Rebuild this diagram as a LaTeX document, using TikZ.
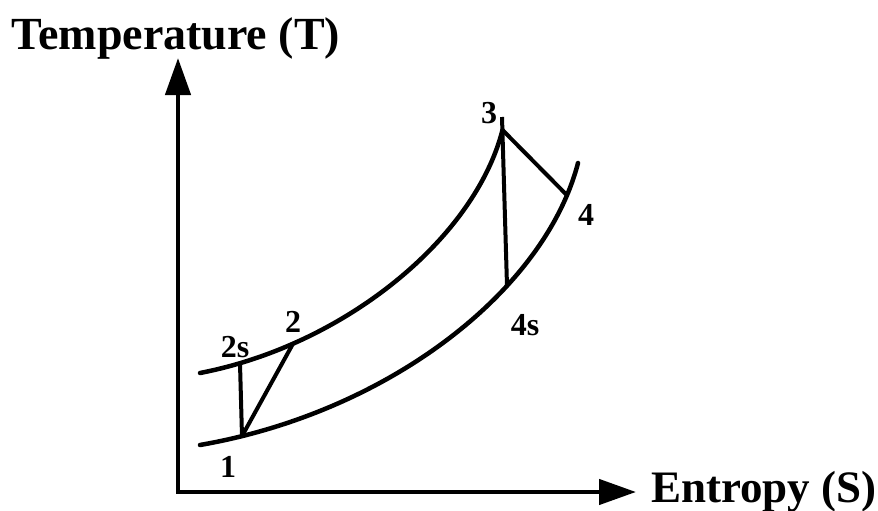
\documentclass[tikz,border=0pt]{standalone}
\usepackage{fontspec}
\setmainfont{Liberation Serif}
\usetikzlibrary{arrows.meta,intersections}
\begin{document}
\begin{tikzpicture}[x=1pt,y=-1pt,>={Triangle[length=37pt,width=25pt]},
  curve/.style={line width=4.5pt,line cap=round},
  stroke/.style={line width=4pt},
  lbl/.style={font=\bfseries\fontsize{32}{32}\selectfont,inner sep=0pt,anchor=base},
  axlbl/.style={font=\bfseries\fontsize{45}{45}\selectfont,inner sep=0pt}]
  \useasboundingbox (0,0) rectangle (878,511);
  \coordinate (O) at (178,492);
  \coordinate (Tend) at (178,58);
  \coordinate (Send) at (636,492);
  \draw[<->,line width=4.5pt] (Tend) -- (O) -- (Send);
  \node[axlbl,anchor=base,font=\bfseries\fontsize{46}{46}\selectfont] (Tlbl) at (176,50) {Temperature (T)};
  \node[axlbl,anchor=base west] (Slbl) at (651,502) {Entropy (S)};
  \draw[curve,name path=upper] (200,373) .. controls (345,345) and (475,238) .. (502.5,130) coordinate (p3);
  \draw[curve,name path=lower] (200,445) .. controls (390,412) and (545,290) .. (578,163);
  \coordinate (p3top) at (502,117);
  \path[name path=v1] (242,0) -- (242,511);
  \path[name path=v2s] (240,0) -- (240,511);
  \path[name path=v2] (293,0) -- (293,511);
  \path[name path=v4s] (507,0) -- (507,511);
  \path[name path=v4] (567,0) -- (567,511);
  \path[name intersections={of=lower and v1,by=p1}];
  \path[name intersections={of=upper and v2s,by=p2s}];
  \path[name intersections={of=upper and v2,by=p2}];
  \path[name intersections={of=lower and v4s,by=p4s}];
  \path[name intersections={of=lower and v4,by=p4}];
  \draw[stroke] (p1) -- (p2s);
  \draw[stroke] (p1) -- (p2);
  \draw[stroke] (p3top) -- (p4s);
  \draw[stroke] (p3) -- (p4);
  \node[lbl] (l1) at (228,477) {1};
  \node[lbl] (l2s) at (235,357) {2s};
  \node[lbl] (l2) at (293,332) {2};
  \node[lbl] (l3) at (489,123) {3};
  \node[lbl] (l4) at (586,225) {4};
  \node[lbl] (l4s) at (525,335) {4s};
\end{tikzpicture}
\end{document}
